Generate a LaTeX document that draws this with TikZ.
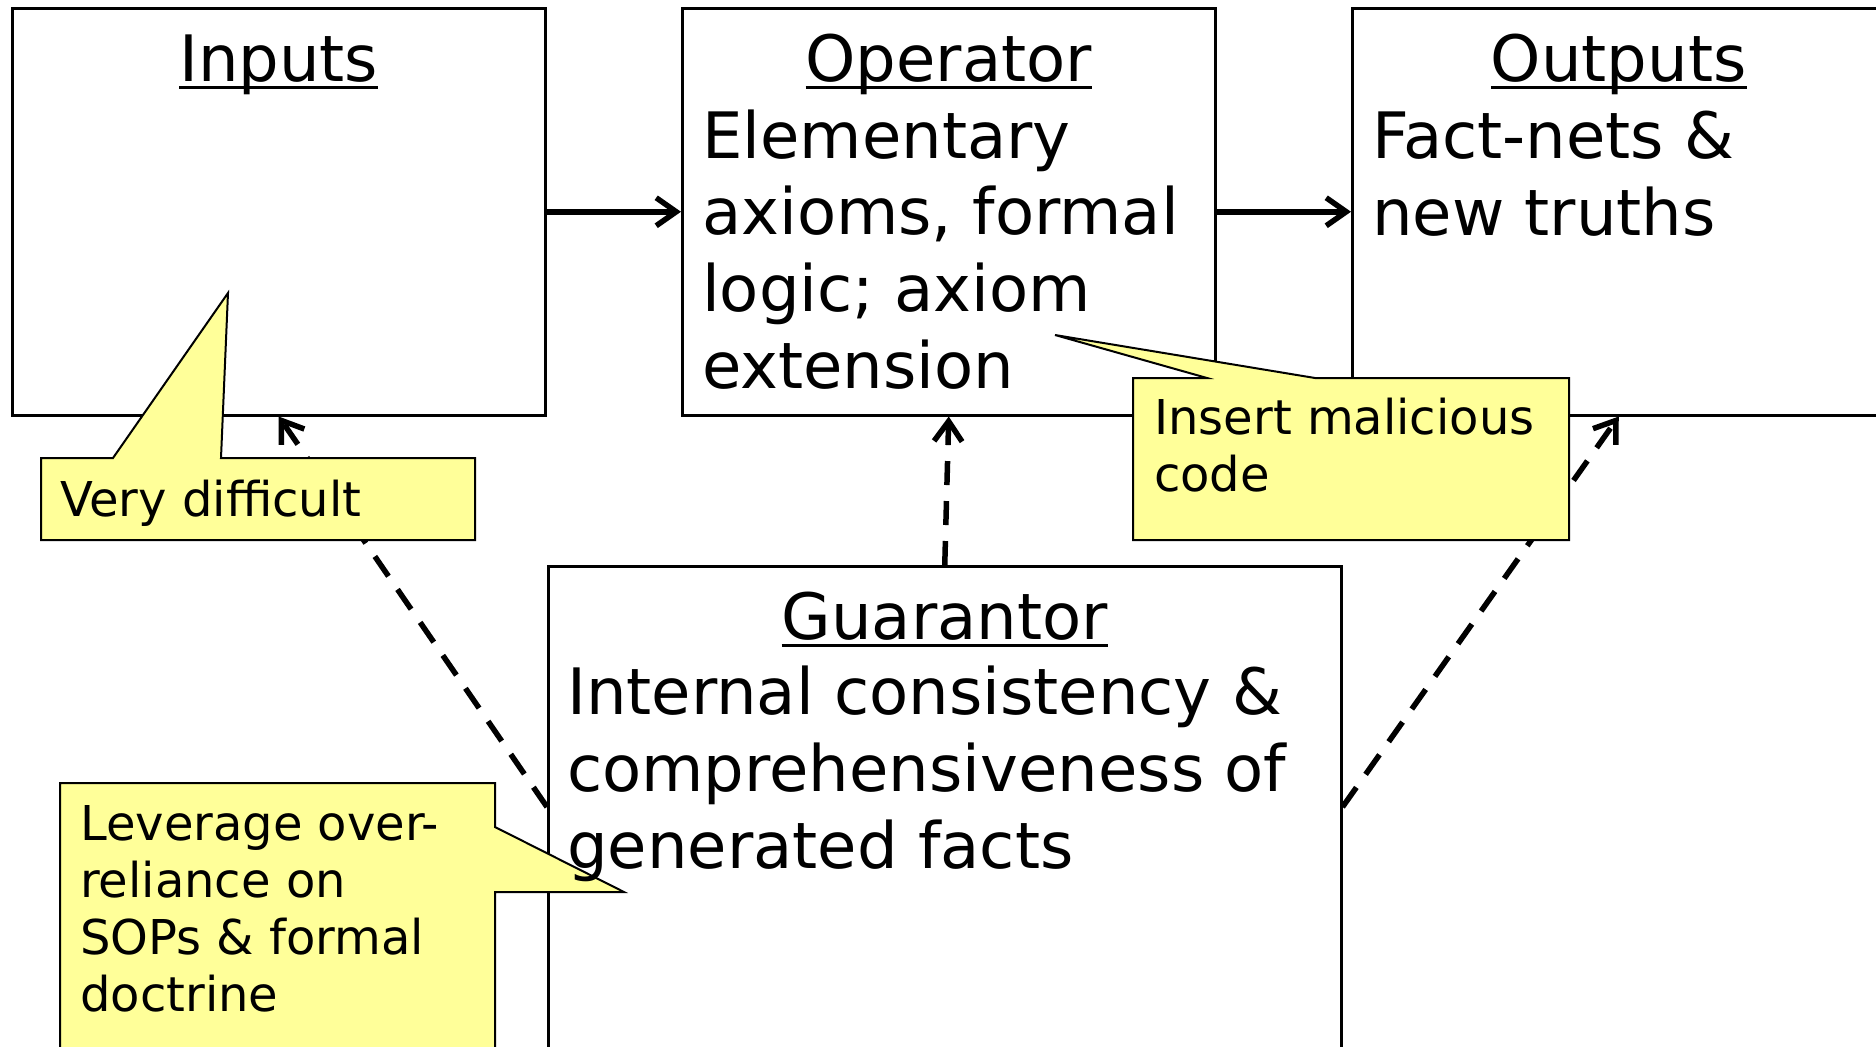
\documentclass[tikz,border=0pt]{standalone}
\usepackage{fontspec}
\setmainfont{DejaVu Sans}
\usetikzlibrary{arrows.meta,calc}

\definecolor{notefill}{RGB}{255,255,153}
\newcommand\panelfont{\fontsize{64bp}{76.6bp}\selectfont}
\newcommand\notefont{\fontsize{48bp}{57bp}\selectfont}
\newcommand\headline[1]{\setbox0=\hbox{#1}\rlap{\rule[-8bp]{\wd0}{3.5bp}}\box0}

\begin{document}
\begin{tikzpicture}[
  x=1bp, y=-1bp,
  panel/.style={draw, line width=2.5bp, anchor=north west, inner sep=0pt,
    minimum width=533bp, minimum height=407bp},
  heading/.style={anchor=base, inner sep=0pt, font=\panelfont},
  body/.style={anchor=base west, align=left, inner sep=0pt, font=\panelfont},
  note/.style={draw, fill=notefill, line width=2bp},
  notetext/.style={anchor=base west, align=left, inner sep=0pt, font=\notefont},
  flow/.style={-{Straight Barb[length=20bp,width=28bp]}, line width=5.5bp},
  attack/.style={flow, dash pattern=on 24bp off 16bp}
]
\useasboundingbox (0,0) rectangle (1876,1046);
\clip (0,0) rectangle (1876,1046);

\node[panel] (inputs) at (11,7) {};
\node[panel] (operator) at (681,7) {};
\node[panel] (outputs) at (1351,7) {};
\node[panel, minimum width=793bp, minimum height=600bp] (guarantor) at (547,565) {};

% body nodes sit on the baseline of their last line
\node[heading] (inputs-title) at ([yshift=-74bp]inputs.north) {\headline{Inputs}};
\node[heading] (operator-title) at ([yshift=-74bp]operator.north) {\headline{Operator}};
\node[body] (operator-text) at ([xshift=21bp,yshift=-381bp]operator.north west)
  {Elementary\\axioms, formal\\logic; axiom\\extension};
\node[heading] (outputs-title) at ([yshift=-74bp]outputs.north) {\headline{Outputs}};
\node[body] (outputs-text) at ([xshift=21bp,yshift=-228bp]outputs.north west)
  {Fact-nets \&\\new truths};
\node[heading] (guarantor-title) at ([yshift=-74bp]guarantor.north) {\headline{Guarantor}};

\draw[flow] (inputs) -- (operator);
\draw[flow] (operator) -- (outputs);
\draw[attack] ($(guarantor.north west)+(0,242)$) -- (inputs.south);
\draw[attack] (guarantor.north) -- (operator.south);
\draw[attack] ($(guarantor.north east)+(0,242)$) -- (outputs.south);

\draw[note] (41,458) -- (113,458) -- (228,293) -- (221,458) -- (475,458)
  -- (475,540) -- (41,540) -- cycle;
\node[notetext] (difficult) at (60,516) {Very difficult};

\draw[note] (1133,378) -- (1207,378) -- (1055,335) -- (1315,378) -- (1569,378)
  -- (1569,540) -- (1133,540) -- cycle;
\node[notetext] (malicious) at (1154,491) {Insert malicious\\code};

\draw[note] (60,1080) -- (60,783) -- (495,783) -- (495,827) -- (624,892)
  -- (495,892) -- (495,1080) -- cycle;
\node[notetext] (leverage) at (80,1011)
  {Leverage over-\\reliance on\\SOPs \& formal\\doctrine};

% drawn last: the pointer runs under this text
\node[body] (guarantor-text) at ([xshift=20bp,yshift=-303bp]guarantor.north west)
  {Internal consistency \&\\comprehensiveness of\\generated facts};
\end{tikzpicture}
\end{document}
